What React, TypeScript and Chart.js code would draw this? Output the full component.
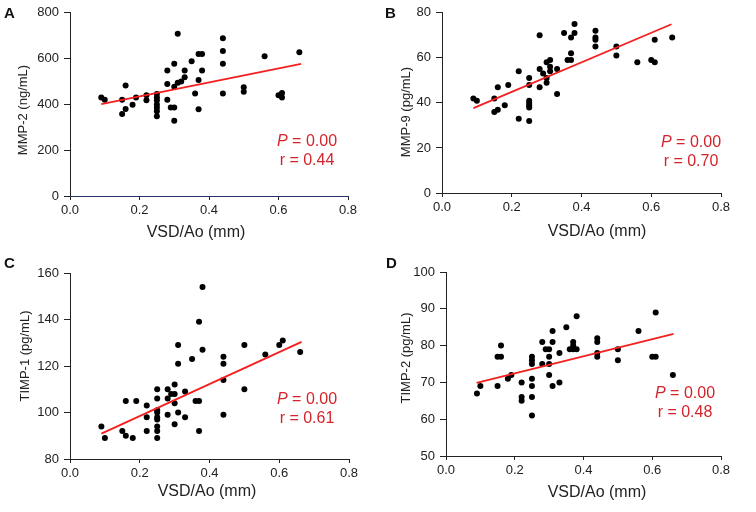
import React, { useEffect, useRef } from "react";
import { Chart, registerables } from "chart.js";

Chart.register(...registerables);

// ---- Data ----
const xA = [0.09, 0.10, 0.15, 0.15, 0.16, 0.16, 0.18, 0.19, 0.22, 0.22, 0.25, 0.25, 0.25, 0.25, 0.25, 0.25, 0.25, 0.28, 0.28, 0.28, 0.29, 0.30, 0.30, 0.30, 0.30, 0.31, 0.31, 0.32, 0.33, 0.33, 0.35, 0.36, 0.37, 0.37, 0.37, 0.38, 0.38, 0.44, 0.44, 0.44, 0.44, 0.50, 0.50, 0.56, 0.60, 0.61, 0.61, 0.66];
const yA = [430, 420, 420, 358, 483, 380, 398, 430, 440, 418, 445, 430, 418, 400, 385, 370, 348, 548, 489, 420, 386, 386, 578, 477, 329, 708, 494, 500, 548, 519, 588, 448, 507, 379, 620, 620, 548, 689, 633, 578, 448, 475, 455, 610, 440, 450, 430, 628];
const lineXA = [0.09, 0.665];
const lineYA = [401, 577];

const xB = [0.09, 0.10, 0.15, 0.15, 0.16, 0.16, 0.18, 0.19, 0.22, 0.22, 0.25, 0.25, 0.25, 0.25, 0.25, 0.25, 0.25, 0.28, 0.28, 0.28, 0.29, 0.30, 0.30, 0.30, 0.31, 0.31, 0.31, 0.33, 0.33, 0.35, 0.36, 0.37, 0.37, 0.37, 0.38, 0.38, 0.44, 0.44, 0.44, 0.44, 0.50, 0.50, 0.56, 0.60, 0.61, 0.61, 0.66];
const yB = [42, 41, 42, 36, 37, 47, 39, 48, 54, 33, 51, 48, 41, 40, 39, 38, 32, 70, 55, 47, 53, 58, 51, 49, 59, 56, 54, 55, 44, 71, 59, 69, 62, 59, 75, 71, 72, 69, 68, 65, 65, 61, 58, 59, 68, 58, 69];
const lineXB = [0.09, 0.658];
const lineYB = [37.7, 74.9];

const xC = [0.09, 0.10, 0.15, 0.16, 0.16, 0.18, 0.19, 0.22, 0.22, 0.22, 0.25, 0.25, 0.25, 0.25, 0.25, 0.25, 0.25, 0.25, 0.25, 0.28, 0.28, 0.28, 0.29, 0.30, 0.30, 0.30, 0.30, 0.31, 0.31, 0.31, 0.33, 0.33, 0.35, 0.36, 0.37, 0.37, 0.37, 0.38, 0.38, 0.44, 0.44, 0.44, 0.44, 0.50, 0.50, 0.56, 0.60, 0.61, 0.66];
const yC = [94, 89, 92, 105, 90, 89, 105, 103, 98, 92, 110, 106, 101, 100, 98, 97, 94, 92, 89, 110, 106, 99, 108, 112, 108, 104, 95, 129, 121, 100, 109, 98, 123, 105, 139, 105, 92, 154, 127, 124, 121, 114, 99, 129, 110, 125, 129, 131, 126];
const lineXC = [0.09, 0.664];
const lineYC = [90.9, 130.4];

const xD = [0.09, 0.10, 0.15, 0.15, 0.16, 0.16, 0.18, 0.19, 0.22, 0.22, 0.22, 0.25, 0.25, 0.25, 0.25, 0.25, 0.25, 0.25, 0.28, 0.28, 0.29, 0.30, 0.30, 0.30, 0.30, 0.31, 0.31, 0.31, 0.33, 0.33, 0.35, 0.36, 0.37, 0.37, 0.37, 0.38, 0.38, 0.44, 0.44, 0.44, 0.44, 0.50, 0.50, 0.56, 0.60, 0.61, 0.61, 0.66];
const yD = [67, 69, 69, 77, 77, 80, 71, 72, 70, 66, 65, 77, 76, 75, 71, 69, 66, 61, 81, 75, 79, 79, 77, 75, 72, 84, 81, 69, 78, 70, 85, 79, 81, 80, 79, 88, 79, 82, 81, 78, 77, 79, 76, 84, 77, 77, 89, 72];
const lineXD = [0.089, 0.662];
const lineYD = [69.9, 83.2];

const panelLetters = ["A", "B", "C", "D"];
const yTitles = ["MMP-2 (ng/mL)", "MMP-9 (pg/mL)", "TIMP-1 (pg/mL)", "TIMP-2 (pg/mL)"];
const xTitle = "VSD/Ao (mm)";
const pValues = ["0.00", "0.00", "0.00", "0.00"];
const rValues = ["0.44", "0.70", "0.61", "0.48"];
const yMins = [0, 0, 80, 50];
const yMaxs = [800, 80, 160, 100];
const ySteps = [200, 20, 20, 10];
const xMin = 0;
const xMax = 0.8;
const xStep = 0.2;

// ---- Layout (panel-local pixels) ----
const W = 378;
const H = 256;
const FONT = "'Liberation Sans', Arial, sans-serif";

type Panel = {
  xs: number[]; ys: number[]; lx: number[]; ly: number[];
  area: { left: number; right: number; top: number; bottom: number };
  letterPos: [number, number];
  xTitlePos: [number, number];
  yTitlePos: [number, number];
  annPos: [number, number];
  xAxisColor: string;
};

const panels: Panel[] = [
  { xs: xA, ys: yA, lx: lineXA, ly: lineYA, area: { left: 70, right: 348, top: 11, bottom: 196 }, letterPos: [4, 18], xTitlePos: [196, 233], yTitlePos: [23, 110], annPos: [307, 142], xAxisColor: "#26336a" },
  { xs: xB, ys: yB, lx: lineXB, ly: lineYB, area: { left: 64, right: 343, top: 10, bottom: 193 }, letterPos: [7, 18], xTitlePos: [219, 232], yTitlePos: [28, 112], annPos: [313, 143], xAxisColor: "#222" },
  { xs: xC, ys: yC, lx: lineXC, ly: lineYC, area: { left: 70, right: 349, top: 17, bottom: 203 }, letterPos: [4, 12], xTitlePos: [207, 236], yTitlePos: [25, 100], annPos: [307, 144], xAxisColor: "#222" },
  { xs: xD, ys: yD, lx: lineXD, ly: lineYD, area: { left: 68, right: 343, top: 16, bottom: 200 }, letterPos: [8, 12], xTitlePos: [219, 237], yTitlePos: [28, 102], annPos: [307, 138], xAxisColor: "#222" },
];

function makeLabelsPlugin(i: number) {
  const p = panels[i];
  return {
    id: "labels" + i,
    afterDraw(chart: any) {
      const ctx = chart.ctx as CanvasRenderingContext2D;
      ctx.save();
      // Panel letter
      ctx.fillStyle = "#111";
      ctx.font = `bold 15px ${FONT}`;
      ctx.textAlign = "left";
      ctx.textBaseline = "alphabetic";
      ctx.fillText(panelLetters[i], p.letterPos[0], p.letterPos[1]);
      // X title
      ctx.font = `16px ${FONT}`;
      ctx.textAlign = "center";
      ctx.textBaseline = "middle";
      ctx.fillStyle = "#222";
      ctx.fillText(xTitle, p.xTitlePos[0], p.xTitlePos[1]);
      // Y title
      ctx.save();
      ctx.translate(p.yTitlePos[0], p.yTitlePos[1]);
      ctx.rotate(-Math.PI / 2);
      ctx.font = `13px ${FONT}`;
      ctx.fillText(yTitles[i], 0, 0);
      ctx.restore();
      // Annotation
      ctx.fillStyle = "#d4242b";
      ctx.textBaseline = "middle";
      const italic = `italic 16px ${FONT}`;
      const normal = `16px ${FONT}`;
      ctx.font = italic;
      const wP = ctx.measureText("P").width;
      ctx.font = normal;
      const rest = " = " + pValues[i];
      const wRest = ctx.measureText(rest).width;
      const startX = p.annPos[0] - (wP + wRest) / 2;
      ctx.textAlign = "left";
      ctx.font = italic;
      ctx.fillText("P", startX, p.annPos[1]);
      ctx.font = normal;
      ctx.fillText(rest, startX + wP, p.annPos[1]);
      ctx.textAlign = "center";
      ctx.fillText("r = " + rValues[i], p.annPos[0], p.annPos[1] + 19);
      ctx.restore();
    },
  };
}

function PanelChart({ index }: { index: number }) {
  const ref = useRef<HTMLCanvasElement | null>(null);
  useEffect(() => {
    if (!ref.current) return;
    const p = panels[index];
    const pts = p.xs.map((x, k) => ({ x, y: p.ys[k] }));
    const linePts = p.lx.map((x, k) => ({ x, y: p.ly[k] }));
    const chart = new Chart(ref.current, {
      type: "scatter",
      data: {
        datasets: [
          {
            data: linePts,
            showLine: true,
            borderColor: "#f51f1f",
            borderWidth: 1.8,
            pointRadius: 0,
            fill: false,
          } as any,
          {
            data: pts,
            backgroundColor: "#000",
            borderWidth: 0,
            pointRadius: 3,
            pointHoverRadius: 3,
          },
        ],
      },
      options: {
        responsive: false,
        animation: false,
        events: [],
        layout: {
          padding: { left: 0, bottom: 0, top: p.area.top, right: W - p.area.right },
        },
        plugins: { legend: { display: false }, tooltip: { enabled: false }, title: { display: false } },
        scales: {
          x: {
            type: "linear",
            min: xMin,
            max: xMax,
            border: { display: true, color: p.xAxisColor, width: 1 },
            grid: { display: true, drawOnChartArea: false, drawTicks: true, tickLength: 4, color: "#222" },
            ticks: {
              stepSize: xStep,
              padding: 3,
              color: "#222",
              font: { family: FONT, size: 13 },
              callback: (v: any) => Number(v).toFixed(1),
              maxRotation: 0,
            },
            afterFit: (s: any) => { s.height = H - p.area.bottom; },
          },
          y: {
            type: "linear",
            min: yMins[index],
            max: yMaxs[index],
            border: { display: true, color: "#222", width: 1 },
            grid: { display: true, drawOnChartArea: false, drawTicks: true, tickLength: 6, color: "#222" },
            ticks: {
              stepSize: ySteps[index],
              padding: 5,
              color: "#222",
              font: { family: FONT, size: 13 },
            },
            afterFit: (s: any) => { s.width = p.area.left; },
          },
        },
      },
      plugins: [makeLabelsPlugin(index)],
    });
    return () => chart.destroy();
  }, [index]);
  const left = (index % 2) * W;
  const top = Math.floor(index / 2) * H;
  return (
    <canvas
      ref={ref}
      width={W}
      height={H}
      style={{ position: "absolute", left, top, width: W, height: H }}
    />
  );
}

export default function App() {
  return (
    <div style={{ position: "absolute", left: 0, top: 0, width: 756, height: 512, background: "#fff" }}>
      {[0, 1, 2, 3].map((i) => (
        <PanelChart key={i} index={i} />
      ))}
    </div>
  );
}
